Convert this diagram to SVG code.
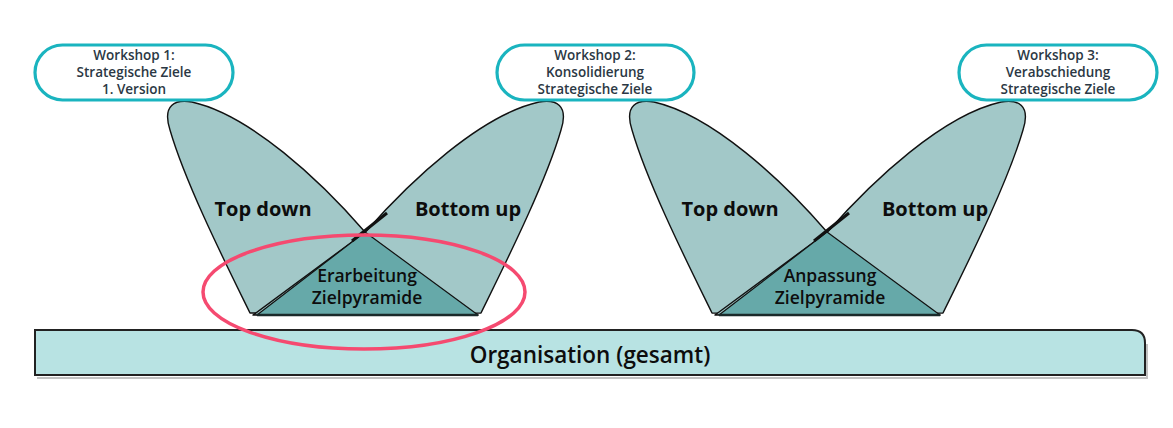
<svg xmlns="http://www.w3.org/2000/svg" width="1173" height="428" viewBox="0 0 1173 428">
<defs>
<style>
.lobe{fill:#a2c8c8;stroke:#111;stroke-width:1.4;stroke-linejoin:round}
.tri{fill:#66a9a9;stroke:#111;stroke-width:1.2;stroke-linejoin:round}
.cross{stroke:#111;stroke-width:3;stroke-linecap:butt}
.base{stroke:#1a2a2a;stroke-width:2.5}
.big{font-family:"Open Sans","Liberation Sans",sans-serif;font-weight:700;font-size:20px;fill:#0d0d0d;text-anchor:middle}
.mid{font-family:"Open Sans","Liberation Sans",sans-serif;font-weight:600;font-size:17.5px;fill:#0d0d0d;text-anchor:middle}
.ws{fill:#fff;stroke:#1ab4bf;stroke-width:3.2}
.wst{font-family:"Open Sans","Liberation Sans",sans-serif;font-weight:600;font-size:13.5px;fill:#2b3844;text-anchor:middle}
.bar{fill:#b8e3e3;stroke:#222;stroke-width:2}
.bart{font-family:"Open Sans","Liberation Sans",sans-serif;font-weight:600;font-size:22.5px;fill:#0d0d0d;text-anchor:middle}
</style>
<g id="bfly">
<path class="lobe" d="M250,313 C228,268 186,185 170,130 C162,105 175,99 192,102 C250,115 320,180 365,232 L478,315 Z"/>
<path class="lobe" d="M481,313 C503,268 545,185 561,130 C569,105 556,99 539,102 C481,115 411,180 365.5,232 L253,315 Z"/>
<path class="tri" d="M365,232 L257,315 L478,315 Z"/>
<line class="base" x1="257" y1="315" x2="478" y2="315"/>
<line class="cross" x1="352" y1="241" x2="387" y2="213"/>
</g>
</defs>

<g id="organisation">
<path d="M37,378 L1147,378 L1147,344" fill="none" stroke="#999" stroke-width="2" opacity="0.6"/>
<path class="bar" d="M35,330 L1132,330 Q1145,330 1145,343 L1145,375 L35,375 Z"/>
<text class="bart" x="590" y="363">Organisation (gesamt)</text>
</g>

<g id="butterfly1">
<use href="#bfly"/>
<text class="big" x="263" y="216">Top down</text>
<text class="big" x="468" y="216">Bottom up</text>
<text class="mid" x="367" y="282">Erarbeitung</text>
<text class="mid" x="367" y="304">Zielpyramide</text>
</g>

<g id="butterfly2">
<use href="#bfly" transform="translate(462,0)"/>
<text class="big" x="730" y="216">Top down</text>
<text class="big" x="935" y="216">Bottom up</text>
<text class="mid" x="830" y="282">Anpassung</text>
<text class="mid" x="830" y="304">Zielpyramide</text>
</g>

<g id="workshop1">
<rect class="ws" x="35" y="45" width="198" height="55" rx="27.5"/>
<text class="wst" x="134" y="60">Workshop 1:</text>
<text class="wst" x="134" y="77">Strategische Ziele</text>
<text class="wst" x="134" y="94">1. Version</text>
</g>

<g id="workshop2">
<rect class="ws" x="497" y="45" width="197" height="55" rx="27.5"/>
<text class="wst" x="595" y="60">Workshop 2:</text>
<text class="wst" x="595" y="77">Konsolidierung</text>
<text class="wst" x="595" y="94">Strategische Ziele</text>
</g>

<g id="workshop3">
<rect class="ws" x="959" y="45" width="198" height="55" rx="27.5"/>
<text class="wst" x="1058" y="60">Workshop 3:</text>
<text class="wst" x="1058" y="77">Verabschiedung</text>
<text class="wst" x="1058" y="94">Strategische Ziele</text>
</g>

<g id="highlight">
<ellipse cx="364" cy="292" rx="161" ry="57" fill="none" stroke="#f54a70" stroke-width="3.5"/>
</g>
</svg>
